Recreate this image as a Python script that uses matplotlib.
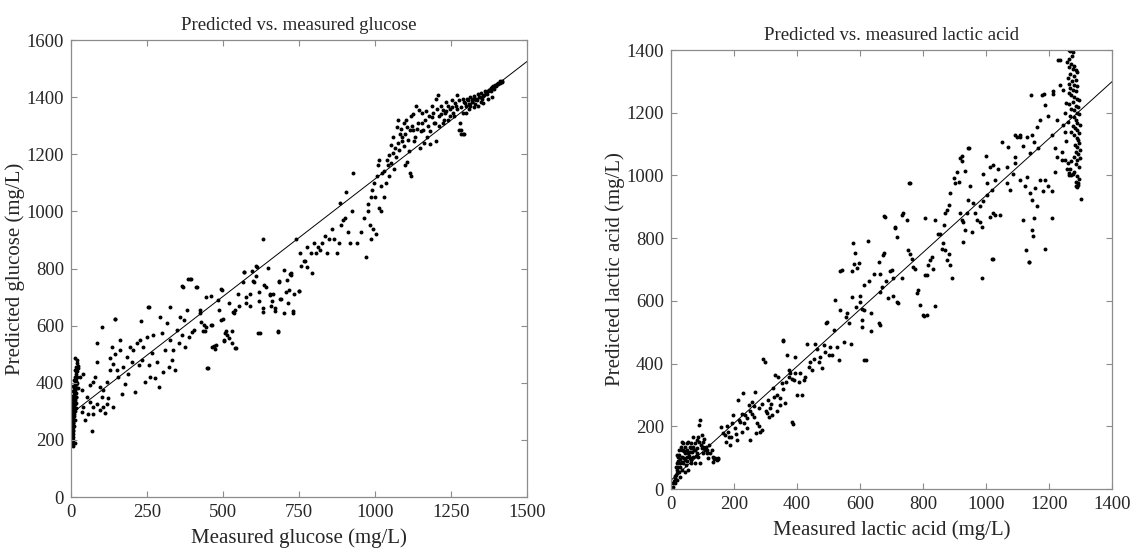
import numpy as np
import matplotlib
matplotlib.use('Agg')
from matplotlib import pyplot as plt

# glucose: (measured, predicted) in mg/L
glucose_pts = [
    (2,190),(3,205),(4,215),(5,230),(3,240),(6,250),(2,255),(4,265),(7,270),(5,280),(3,290),(8,295),(6,300),(4,310),
    (9,315),(7,320),(5,330),(10,335),(8,340),(3,345),(11,350),(6,355),(9,360),(12,365),(7,370),(13,375),(10,380),
    (14,385),(8,390),(15,395),(12,400),(16,405),(11,410),(17,395),(14,420),(18,430),(13,445),(16,455),(19,470),(20,480),
    (4,225),(6,235),(8,260),(5,200),(9,285),(10,305),(7,245),(12,325),(11,290),(15,350),(14,340),(16,365),(3,320),
    (2,300),(4,350),(6,210),(8,220),(10,250),(12,270),(13,300),(15,310),(17,330),(18,350),(19,400),(20,420),(21,440),
    (22,380),(23,460),(1,230),(1,270),(2,330),(5,260),(7,290),(9,330),(11,370),(13,390),(15,415),(17,440),(6,180),(3,185),
    (24,450),(29,421),(40,432),(35,374),(51,351),(62,392),(73,403),(79,421),(84,472),(95,386),(101,351),(106,374),
    (112,293),(117,403),(123,345),(128,444),(128,485),(134,526),(139,467),(145,502),(150,444),(156,421),(161,514),
    (161,550),(167,362),(172,456),(178,397),(183,491),(189,432),(194,526),(200,473),(205,514),(211,368),(216,538),
    (222,462),(227,550),(233,479),(238,526),(244,403),(249,561),(255,462),(260,421),(266,503),(271,567),(277,415),
    (282,473),(288,386),(293,631),(299,573),(304,438),(310,514),(315,608),(321,456),(326,550),(332,479),(337,514),
    (343,444),(348,585),(354,538),(359,631),(365,567),(370,620),(376,526),(381,655),(387,561),(398,579),(403,585),
    (425,643),(436,602),(46,270),(68,231),(57,291),(73,291),(35,297),(95,304),(106,315),(84,327),(117,327),(139,315),
    (62,333),(40,315),(73,315),(13,485),(101,596),(145,623),(87,540),(229,616),(256,665),(326,665),(386,763),(395,763),
    (368,735),(415,735),(444,702),(449,452),(463,526),(495,726),(484,689),(474,518),(502,550),(513,567),(543,521),
    (529,540),(532,648),(570,789),(600,757),(620,575),(609,808),(665,711),(682,578),(731,646),(720,780),(756,810),
    (751,722),(770,827),
    (424,656),(441,582),(459,601),(488,656),(500,625),(518,681),(535,644),(553,668),(576,699),(588,668),(602,754),
    (618,718),(635,742),(653,711),(659,668),(671,662),(688,693),(706,718),(724,779),(518,557),(509,580),(435,582),
    (429,613),(445,594),(465,601),(471,527),(476,533),(492,619),(506,576),(504,545),(529,582),(541,656),(550,711),
    (565,754),(576,681),(588,711),(595,791),(609,773),(618,687),(633,662),(641,736),(654,708),(662,687),(671,650),
    (685,754),(692,693),(700,644),(712,760),(715,681),(724,785),(732,711),(729,650),(633,902),(612,807),(568,789),
    (392,764),(365,740),(412,736),(459,705),(494,730),(252,666),(144,625),(632,647),(614,574),(680,580),(541,521),
    (447,453),(12,188),(718,726),(751,723),(700,794),(684,758),(647,801),
    (741,902),(753,853),(765,828),(776,877),(788,853),(800,890),(776,804),(794,785),(812,877),(824,890),(835,914),
    (847,902),(859,939),(876,853),(888,952),(900,976),(912,927),(924,1000),(806,853),(818,865),(841,853),(865,902),
    (882,890),(894,970),(918,890),(941,890),(953,927),(965,976),(976,1000),(982,952),(971,841),(988,902),(994,939),
    (1004,920),(927,1133),(903,1068),(885,1028),(976,1025),(986,1050),(991,1075),(998,1099),(1006,1124),(1009,1161),
    (1012,1179),(1000,1050),(1018,1088),(1024,1136),(1014,1013),(1020,1000),(1029,1050),(1035,1099),(1041,1161),
    (1047,1198),(1053,1234),(1059,1259),(1065,1222),(1071,1296),(1076,1321),(1082,1272),(1088,1247),(1094,1309),
    (1100,1272),(1106,1296),(1112,1210),(1118,1334),(1124,1284),(1129,1247),(1135,1370),(1141,1309),(1147,1222),
    (1153,1346),(1159,1284),(1165,1321),(1171,1259),(1176,1334),(1182,1235),(1188,1370),(1194,1309),(1200,1395),
    (1206,1407),(1212,1334),(1218,1370),(1223,1309),(1229,1346),(1235,1383),(1241,1321),(1247,1358),(1253,1389),
    (1259,1334),(1265,1370),(1270,1407),(1276,1284),(1282,1272),(1288,1346),(1294,1383),(1294,1272),(1300,1370),
    (1306,1389),(1312,1370),(1318,1383),(1323,1395),(1329,1377),(1335,1389),(1341,1401),(1347,1383),(1353,1395),
    (1359,1407),(1365,1413),(1371,1420),(1376,1426),(1382,1432),(1388,1438),(1394,1444),(1400,1447),(1406,1451),
    (1412,1456),(1418,1458),(1115,1136),(1118,1124),(1106,1173),(1100,1161),(1200,1247),(1288,1272),(1282,1284),
    (1030,1140),(1038,1180),(1045,1125),(1052,1170),(1058,1205),(1062,1150),(1068,1190),(1074,1240),(1080,1215),
    (1086,1290),(1090,1260),(1096,1230),(1102,1320),(1108,1250),(1114,1285),(1120,1300),(1126,1340),(1132,1260),
    (1138,1290),(1144,1355),(1150,1280),(1156,1310),(1162,1240),(1168,1350),(1174,1300),(1180,1280),(1186,1330),
    (1192,1345),(1198,1310),(1204,1360),(1210,1300),(1216,1340),(1222,1355),(1228,1320),(1234,1350),(1240,1370),
    (1246,1335),(1252,1365),(1258,1345),(1264,1380),(1270,1360),(1276,1390),(1282,1365),(1288,1395),(1296,1380),
    (1302,1395),(1308,1375),(1314,1400),(1320,1390),(1326,1405),(1332,1395),(1338,1410),(1344,1400),(1350,1415),
    (1356,1405),(1362,1420),(1368,1410),(1374,1425),(1380,1420),(1386,1435),(1392,1430),(1398,1440),(1404,1445),
    (1410,1450),(1416,1452),(1385,1400),(1370,1395),(1355,1380),(1340,1370),(1325,1365),(1310,1360),(1300,1345),
    (1280,1310),
]

# lactic acid: (measured, predicted) in mg/L
lactic_pts = [
    (7,18),(13,34),(18,50),(23,71),(28,82),(34,103),(39,124),(44,135),(50,146),(55,151),(60,119),(65,130),(71,103),
    (76,146),(81,157),(87,167),(92,220),(89,204),(97,172),(102,135),(108,124),(113,114),(118,98),(124,114),(129,124),
    (134,103),(140,98),(145,92),(150,95),(7,7),(18,82),(23,103),(34,61),(39,82),(44,92),(50,103),(55,114),(60,135),
    (65,146),(71,135),(76,124),(81,114),(87,103),(71,167),(65,82),(55,61),(44,55),(28,39),(18,28),(13,18),(39,146),
    (34,124),(50,124),(60,98),(76,82),(92,82),(102,114),(97,130),(10,25),(15,45),(20,60),(25,55),(30,70),(12,40),
    (22,90),(26,110),(30,95),(35,85),(40,100),(45,115),(48,75),(52,88),(58,105),(62,92),(68,118),(72,125),(78,105),
    (84,130),(88,150),(94,140),(100,150),(105,160),(110,135),(115,125),(120,140),(132,85),(138,95),(148,98),(16,70),
    (19,110),(24,125),(32,135),(36,150),(42,120),
    (160,198),(171,172),(176,151),(182,182),(187,140),(192,167),(198,236),(203,193),(208,156),(214,284),(219,214),
    (224,182),(230,305),(235,236),(240,193),(246,268),(251,156),(256,279),(262,231),(267,310),(272,209),(278,257),
    (283,182),(288,188),(293,416),(298,406),(304,241),(309,284),(315,257),(320,236),(325,321),(331,363),(336,300),
    (341,358),(346,268),(352,337),(357,475),(362,273),(368,427),(373,358),(378,369),(384,214),(389,347),(394,422),
    (400,300),(405,342),(410,369),(416,300),(421,347),(426,358),(432,464),(437,390),(442,406),(447,379),(453,416),
    (458,464),(464,448),(469,406),(474,422),(479,385),(485,459),(490,438),(495,533),(501,427),(506,453),(511,427),
    (517,507),(522,602),(527,453),(532,411),(538,570),(543,699),(548,470),(554,549),(559,560),(564,528),(570,464),
    (575,613),(580,716),(586,581),(591,705),(596,721),(601,597),(606,518),(612,570),(619,411),(354,472),(388,208),
    (613,410),(578,786),(624,792),(492,530),(538,694),(573,696),(584,752),
    (165,180),(178,200),(185,165),(195,210),(205,175),(215,220),(225,240),(232,210),(242,225),(250,250),(258,240),
    (265,265),(270,180),(280,200),(290,270),(300,250),(310,230),(318,270),(328,295),(335,250),(345,290),(355,320),
    (365,340),(375,380),(385,350),(395,370),
    (614,651),(601,617),(630,662),(644,685),(659,724),(676,752),(665,629),(605,573),(636,561),(660,530),(662,522),
    (634,505),(607,539),(682,662),(694,696),(705,617),(717,595),
    (759,975),(680,869),(711,832),(717,805),(737,880),(748,859),(674,745),(664,687),(669,645),(690,608),(722,592),
    (701,700),(706,673),(732,673),(753,762),(759,751),(764,735),(769,708),(775,703),(780,624),(785,634),(791,587),
    (801,555),(812,555),(806,683),(812,683),(817,714),(822,730),(828,740),(833,703),(838,859),(849,812),(854,812),
    (859,767),(865,783),(870,761),(875,730),(881,751),(886,714),(891,673),(897,991),(907,1012),(902,975),(913,980),
    (918,1057),(923,1062),(934,1015),(944,1088),(886,943),(881,906),(875,890),(870,880),(918,880),(923,858),(928,853),
    (934,826),(928,788),(939,880),(944,922),(949,965),(960,911),(965,880),(970,858),(981,853),(986,837),(955,821),
    (1013,869),(1023,880),(1029,874),(1045,874),(981,901),(991,917),(1002,938),(1018,954),(1029,986),(1002,975),
    (991,1006),(1013,1028),(1023,1033),(1039,1022),(1066,1028),(1071,1091),(1093,1060),(1098,1124),(1108,1124),
    (1119,1093),(1129,1124),(1140,1070),(1145,1129),(1151,1108),(1161,1156),(1166,1086),(1172,1177),(1177,1257),
    (1188,1225),(1198,1188),(1209,1129),(1214,1268),(1220,1086),(1225,1177),(1236,1289),(1241,1076),(1246,1273),
    (1236,1368),(1087,1006),(1093,1039),(1066,975),(1077,954),(1108,986),(1124,965),(1129,996),(1140,943),(1145,922),
    (1156,959),(1161,901),(1172,986),(1182,949),(1188,986),(1198,965),(1209,949),(1220,1012),(1225,1060),(1119,858),
    (1151,863),(1145,826),(1188,767),(1135,724),(1209,863),(1018,735),(947,1089),(924,1046),(999,1063),(1051,1106),
    (1091,1128),(1108,1128),(1143,1257),(1183,1259),(1212,1259),(1229,1367),(1137,724),(1149,806),(1126,763),
    (1022,735),(987,673),(803,552),(838,584),(806,864),(676,870),(734,875),(711,836),(866,842),(757,977),
    (1262,1400),(1268,1398),(1275,1395),(1272,1380),(1265,1370),(1258,1362),(1270,1355),(1280,1350),(1262,1345),
    (1275,1340),(1285,1335),(1290,1330),(1268,1325),(1278,1318),(1260,1312),(1285,1305),(1272,1300),(1265,1292),
    (1280,1288),(1290,1285),(1268,1278),(1275,1272),(1285,1268),(1262,1262),(1270,1255),(1280,1250),(1290,1245),
    (1295,1240),(1275,1235),(1265,1228),(1285,1222),(1292,1218),(1270,1212),(1280,1208),(1288,1200),(1295,1195),
    (1268,1190),(1278,1185),(1285,1178),(1260,1172),(1290,1168),(1298,1162),(1275,1158),(1282,1150),(1290,1145),
    (1270,1140),(1295,1135),(1280,1128),(1288,1120),(1292,1112),(1296,1105),(1284,1098),(1290,1090),(1298,1082),
    (1286,1075),(1293,1068),(1278,1060),(1297,1055),(1288,1048),(1270,1045),(1260,1040),(1285,1035),(1294,1028),
    (1266,1020),(1280,1012),(1275,1005),(1262,1000),(1290,998),(1296,990),(1287,980),(1293,970),(1289,962),
    (1300,925),(1250,1200),(1255,1230),(1245,1160),(1250,1140),(1255,1110),(1240,1050),(1252,1050),(1258,1020),
    (1264,1008),(1270,1000),(1287,966),(1291,975),
]

# fitted lines (end points)
glucose_line_x = [0, 1500]
glucose_line_y = [291, 1525]
lactic_line_x = [0, 1400]
lactic_line_y = [28, 1299]

glucose_xticks = [0, 250, 500, 750, 1000, 1250, 1500]
glucose_yticks = [0, 200, 400, 600, 800, 1000, 1200, 1400, 1600]
lactic_xticks = [0, 200, 400, 600, 800, 1000, 1200, 1400]
lactic_yticks = [0, 200, 400, 600, 800, 1000, 1200, 1400]

plt.rcParams['font.family'] = ['Liberation Serif', 'DejaVu Serif']
txt = '#262626'
edge = '#8c8c8c'

fig = plt.figure(figsize=(11.31, 5.52), dpi=100)
ax1 = fig.add_axes([0.0628, 0.0996, 0.4032, 0.8279])
ax2 = fig.add_axes([0.5933, 0.1141, 0.3899, 0.7953])


def draw(ax, pts, lx, ly, xt, yt, title, xlabel, ylabel):
    pts = np.array(pts, dtype=float)
    ax.scatter(pts[:, 0], pts[:, 1], s=8, c='black', linewidths=0)
    ax.plot(lx, ly, color='black', lw=0.7)
    ax.set_xlim(xt[0], xt[-1])
    ax.set_ylim(yt[0], yt[-1])
    ax.set_xticks(xt)
    ax.set_yticks(yt)
    ax.tick_params(direction='in', top=True, right=True, length=4, width=0.8,
                   color=edge, labelcolor=txt, labelsize=13.5, pad=5)
    for s in ax.spines.values():
        s.set_color(edge)
        s.set_linewidth(0.9)
    ax.set_title(title, fontsize=13.5, color=txt, pad=7)
    ax.set_xlabel(xlabel, fontsize=15, color=txt, labelpad=5)
    ax.set_ylabel(ylabel, fontsize=15, color=txt, labelpad=1)


draw(ax1, glucose_pts, glucose_line_x, glucose_line_y, glucose_xticks, glucose_yticks,
     'Predicted vs. measured glucose', 'Measured glucose (mg/L)', 'Predicted glucose (mg/L)')
draw(ax2, lactic_pts, lactic_line_x, lactic_line_y, lactic_xticks, lactic_yticks,
     'Predicted vs. measured lactic acid', 'Measured lactic acid (mg/L)', 'Predicted lactic acid (mg/L)')

plt.savefig('out.png', dpi=100)
